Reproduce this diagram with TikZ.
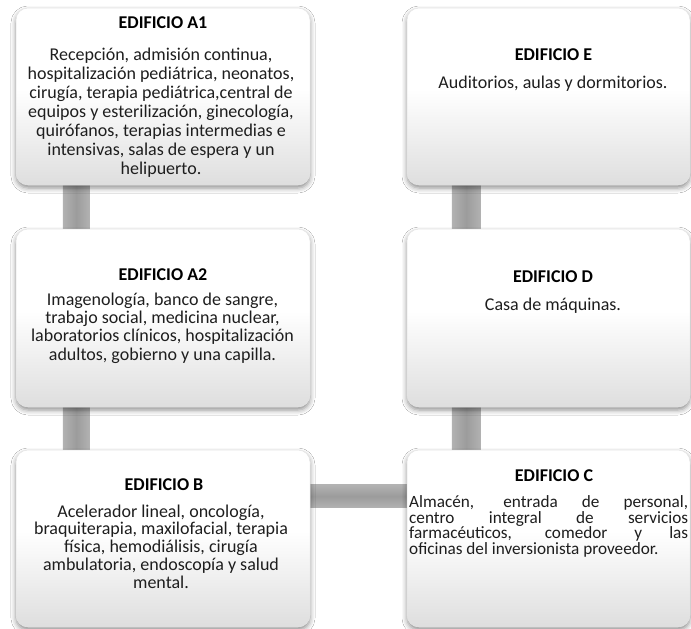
\documentclass[tikz,border=0pt]{standalone}
\usepackage{fontspec}
\setmainfont{Carlito}
\usetikzlibrary{shadows.blur,calc,backgrounds}
\definecolor{boxbot}{RGB}{222,222,222}
\definecolor{barc}{RGB}{156,156,156}
\definecolor{barl}{RGB}{178,178,178}
\definecolor{txt}{RGB}{30,30,30}
\pgfdeclareverticalshading{boxshade}{100bp}{color(0bp)=(boxbot); color(25bp)=(boxbot); color(52bp)=(white); color(100bp)=(white)}
\newcommand\mytight{\lineskiplimit=-50pt\relax\lineskip=0pt\relax}
\begin{document}
\begin{tikzpicture}[x=1pt,y=-1pt,
  bld/.style={draw=black!10, line width=0.5pt, rounded corners=12pt, shading=boxshade,
    blur shadow={shadow xshift=0pt,shadow yshift=-3pt,shadow blur radius=5pt,shadow opacity=45},
    inner sep=0pt},
  lbox/.style={bld, minimum width=294pt, minimum height=177pt},
  rbox/.style={bld, minimum width=283pt, minimum height=177pt},
  barv/.style={left color=barl, right color=barl, middle color=barc},
  barh/.style={top color=barl, bottom color=barl, middle color=barc},
  ttl/.style={font=\fontsize{18}{17.2}\selectfont\bfseries, text=black, inner sep=0pt, anchor=base},
  bdy/.style={font=\fontsize{18}{17.8}\selectfont\mytight, text=txt, inner sep=0pt, anchor=base, align=center},
]
\useasboundingbox (0,0) rectangle (691,629);

% buildings
\node[lbox] (a1) at (163,96.5) {};
\node[rbox] (e) at (548.5,96.5) {};
\node[lbox, minimum height=178pt] (a2) at (163,318) {};
\node[rbox, minimum height=178pt] (d) at (548.5,318) {};
\node[lbox] (b) at (163,538.5) {};
\node[rbox] (c) at (548.5,538.5) {};

% connectors behind
\begin{scope}[on background layer]
\fill[white] (0,0) rectangle (691,629);
\path[barv] ($(a1.south west)+(47,-5)$) rectangle ($(a2.north west)+(74,5)$);
\path[barv] ($(a2.south west)+(47,-5)$) rectangle ($(b.north west)+(74,5)$);
\path[barv] ($(e.south west)+(45,-5)$) rectangle ($(d.north west)+(74,5)$);
\path[barv] ($(d.south west)+(45,-5)$) rectangle ($(c.north west)+(74,5)$);
\path[barh] ($(b.north east)+(-5,35)$) rectangle ($(c.north west)+(5,58)$);
\end{scope}

% texts (base = baseline of last line)
\node[ttl] (ta1) at (163,28.5) {EDIFICIO A1};
\node[bdy, font=\fontsize{18}{19}\selectfont\mytight] (xa1) at (161,174) {Recepción, admisión continua,\\hospitalización pediátrica, neonatos,\\cirugía, terapia pediátrica,central de\\equipos y esterilización, ginecología,\\quirófanos, terapias intermedias e\\intensivas, salas de espera y un\\helipuerto.};

\node[ttl] (te) at (553.5,60) {EDIFICIO E};
\node[bdy] (xe) at (553,88.5) {Auditorios, aulas y dormitorios.};

\node[ttl] (ta2) at (163,280) {EDIFICIO A2};
\node[bdy, font=\fontsize{18}{18.2}\selectfont\mytight] (xa2) at (162.5,360) {Imagenología, banco de sangre,\\trabajo social, medicina nuclear,\\laboratorios clínicos, hospitalización\\adultos, gobierno y una capilla.};

\node[ttl] (td) at (553,282.5) {EDIFICIO D};
\node[bdy] (xd) at (553,310) {Casa de máquinas.};

\node[ttl] (tb) at (164,490) {EDIFICIO B};
\node[bdy] (xb) at (161,588.2) {Acelerador lineal, oncología,\\braquiterapia, maxilofacial, terapia\\física, hemodiálisis, cirugía\\ambulatoria, endoscopía y salud\\mental.};

\node[ttl] (tc) at (554,481) {EDIFICIO C};
\node[bdy, anchor=base west, align=left, font=\fontsize{17.2}{15.5}\selectfont\mytight] (xc) at (409,554) {\makebox[279pt][s]{Almacén, entrada de personal,}\\\makebox[279pt][s]{centro integral de servicios}\\\makebox[279pt][s]{farmacéuticos, comedor y las}\\oficinas del inversionista proveedor.};
\end{tikzpicture}
\end{document}
